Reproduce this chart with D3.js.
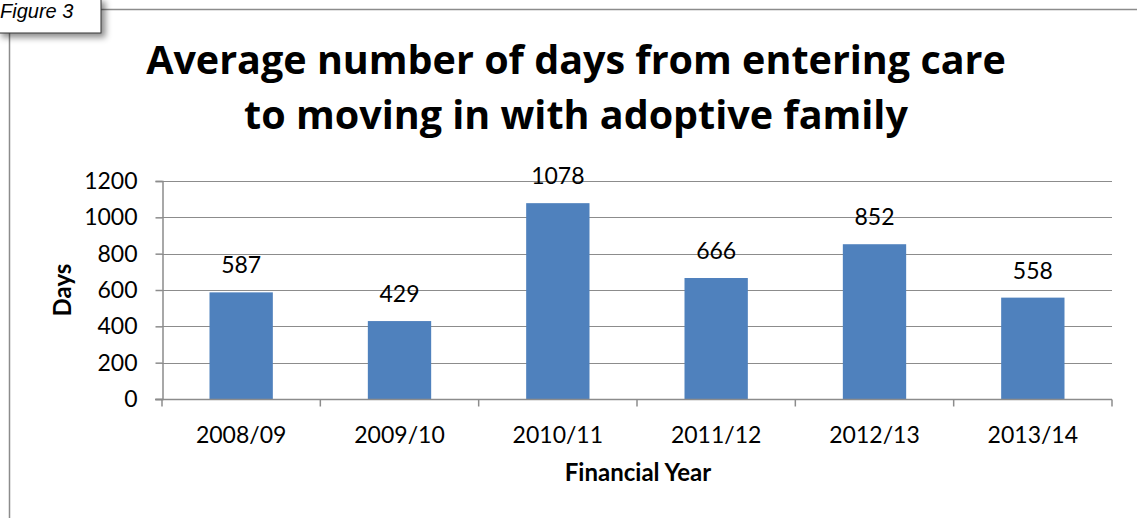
<!DOCTYPE html>
<html>
<head>
<meta charset="utf-8">
<script src="https://cdn.jsdelivr.net/npm/d3@7"></script>
<style>
  body { margin: 0; background: #fff; }
  svg { display: block; }
</style>
</head>
<body>
<div id="chart"></div>
<script>
// data
var years = ["2008/09", "2009/10", "2010/11", "2011/12", "2012/13", "2013/14"];
var days = [587, 429, 1078, 666, 852, 558];
var yTicks = [0, 200, 400, 600, 800, 1000, 1200];
var titleLines = ["Average number of days from entering care", "to moving in with adoptive family"];

var width = 1137, height = 518;
var plot = { left: 162, right: 1112, top: 181, bottom: 399 };
var font = "Lato, 'Open Sans', sans-serif";

var svg = d3.select("#chart").append("svg")
    .attr("width", width)
    .attr("height", height);

var defs = svg.append("defs");
var shadow = defs.append("filter").attr("id", "shadow")
    .attr("x", "-20%").attr("y", "-20%").attr("width", "150%").attr("height", "180%");
shadow.append("feDropShadow")
    .attr("dx", 4).attr("dy", 4).attr("stdDeviation", 3)
    .attr("flood-color", "#000").attr("flood-opacity", 0.45);

// frame lines
svg.append("line")
    .attr("x1", 100).attr("x2", width).attr("y1", 9.5).attr("y2", 9.5)
    .attr("stroke", "#8c8c8c").attr("stroke-width", 1.5);
svg.append("line")
    .attr("x1", 9.5).attr("x2", 9.5).attr("y1", 30).attr("y2", height)
    .attr("stroke", "#8c8c8c").attr("stroke-width", 1.5);

// "Figure 3" label box
svg.append("rect")
    .attr("x", -2).attr("y", -2).attr("width", 103).attr("height", 35)
    .attr("fill", "#fff").attr("stroke", "#333").attr("stroke-width", 1)
    .attr("filter", "url(#shadow)");
svg.append("text")
    .attr("x", 0).attr("y", 18)
    .attr("font-family", "'Liberation Sans', Arial, sans-serif")
    .attr("font-style", "italic")
    .attr("font-size", 20)
    .text("Figure 3");

// title
svg.append("g").selectAll("text")
    .data(titleLines)
    .enter().append("text")
    .attr("x", 576)
    .attr("y", function (d, i) { return 74 + i * 55; })
    .attr("text-anchor", "middle")
    .attr("font-family", "'Open Sans', sans-serif")
    .attr("font-weight", "bold")
    .attr("font-size", 39.5)
    .text(function (d) { return d; });

var x = d3.scaleBand()
    .domain(years)
    .range([plot.left, plot.right])
    .padding(0);

var y = d3.scaleLinear()
    .domain([0, 1200])
    .range([plot.bottom, plot.top]);

// gridlines
svg.append("g").selectAll("line")
    .data(yTicks.filter(function (d) { return d > 0; }))
    .enter().append("line")
    .attr("x1", plot.left).attr("x2", plot.right)
    .attr("y1", function (d) { return Math.round(y(d)) + 0.5; })
    .attr("y2", function (d) { return Math.round(y(d)) + 0.5; })
    .attr("stroke", "#8c8c8c").attr("stroke-width", 1.2);

// bars
var barW = x.bandwidth() * 0.4;
svg.append("g").selectAll("rect")
    .data(days)
    .enter().append("rect")
    .attr("x", function (d, i) { return x(years[i]) + (x.bandwidth() - barW) / 2; })
    .attr("y", function (d) { return y(d); })
    .attr("width", barW)
    .attr("height", function (d) { return plot.bottom - y(d); })
    .attr("fill", "#4f81bd");

// value labels
svg.append("g").selectAll("text")
    .data(days)
    .enter().append("text")
    .attr("x", function (d, i) { return x(years[i]) + x.bandwidth() / 2; })
    .attr("y", function (d) { return y(d) - 19; })
    .attr("text-anchor", "middle")
    .attr("font-family", font)
    .attr("font-size", 23)
    .text(function (d) { return d; });

// y axis
var yAxis = svg.append("g")
    .attr("transform", "translate(" + (plot.left + 0.5) + ",0)")
    .call(d3.axisLeft(y).tickValues(yTicks).tickSize(7).tickPadding(18).tickFormat(d3.format("d")));
yAxis.select(".domain").attr("stroke", "#8c8c8c").attr("stroke-width", 1.5);
yAxis.selectAll(".tick line").attr("stroke", "#8c8c8c").attr("stroke-width", 1.5);
yAxis.selectAll("text")
    .attr("font-family", font).attr("font-size", 23).attr("fill", "#000");

// x axis
var xAxis = svg.append("g")
    .attr("transform", "translate(0," + (plot.bottom + 0.5) + ")");
xAxis.append("line")
    .attr("x1", plot.left - 7).attr("x2", plot.right)
    .attr("stroke", "#8c8c8c").attr("stroke-width", 1.5);
xAxis.selectAll(".xtick")
    .data(years.concat(["end"]))
    .enter().append("line")
    .attr("class", "xtick")
    .attr("x1", function (d, i) { return plot.left + i * x.step(); })
    .attr("x2", function (d, i) { return plot.left + i * x.step(); })
    .attr("y1", 0).attr("y2", 7)
    .attr("stroke", "#8c8c8c").attr("stroke-width", 1.5);
xAxis.selectAll(".xlabel")
    .data(years)
    .enter().append("text")
    .attr("class", "xlabel")
    .attr("x", function (d) { return x(d) + x.bandwidth() / 2; })
    .attr("y", 43)
    .attr("text-anchor", "middle")
    .attr("font-family", font)
    .attr("font-size", 23)
    .text(function (d) { return d; });

// axis titles
svg.append("text")
    .attr("x", 638).attr("y", 481)
    .attr("text-anchor", "middle")
    .attr("font-family", font).attr("font-weight", "bold").attr("font-size", 24)
    .text("Financial Year");

svg.append("text")
    .attr("transform", "translate(71,290) rotate(-90)")
    .attr("text-anchor", "middle")
    .attr("font-family", font).attr("font-weight", "bold").attr("font-size", 24)
    .text("Days");
</script>
</body>
</html>
